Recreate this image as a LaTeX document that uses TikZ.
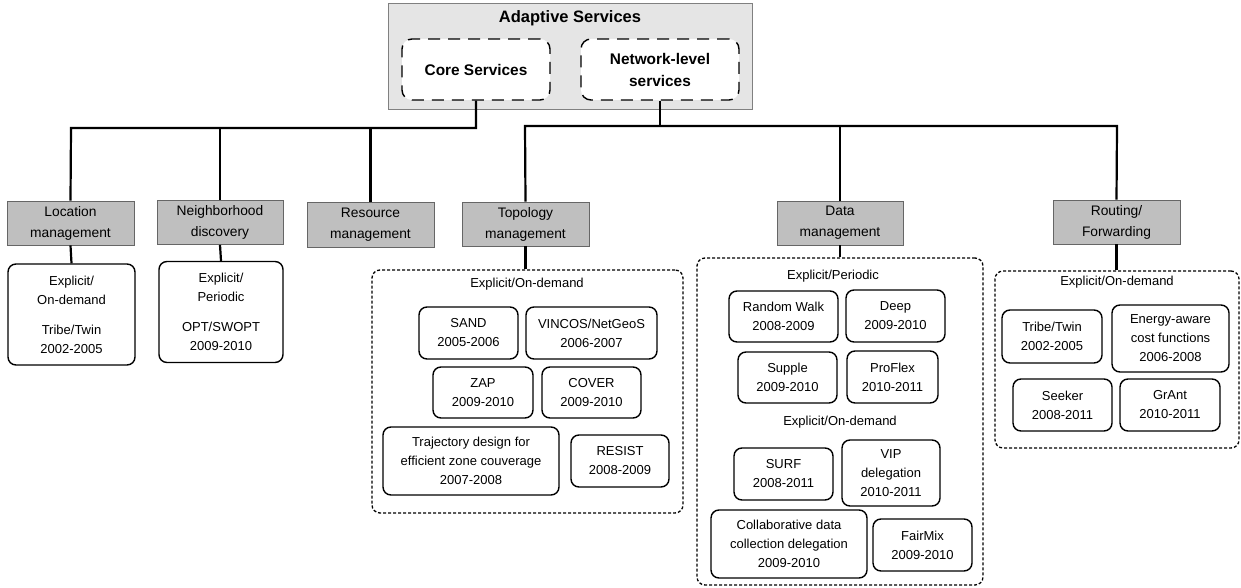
\documentclass[tikz,border=0pt]{standalone}
\usepackage{fontspec}
\setmainfont{Liberation Sans}
\begin{document}
\begin{tikzpicture}[x=1pt,y=-1pt,
  topbox/.style={draw=black!50, fill=black!10, line width=1pt, inner sep=0pt},
  svcbox/.style={draw, fill=white, line width=1.4pt, dash pattern=on 12pt off 8pt, rounded corners=10pt, inner sep=0pt, align=center, font=\fontsize{15.4}{22}\selectfont\bfseries},
  gbox/.style={draw=black!60, fill=black!25, line width=0.9pt, inner sep=0pt, align=center, minimum width=127pt, minimum height=44pt, font=\fontsize{13.8}{21}\selectfont},
  wbox/.style={draw, fill=white, line width=1.4pt, rounded corners=8pt, inner sep=0pt, align=center, font=\fontsize{13}{19}\selectfont},
  cluster/.style={draw, line width=1.3pt, dash pattern=on 3pt off 2pt, rounded corners=8pt, inner sep=0pt},
  lbl/.style={inner sep=0pt, align=center, font=\fontsize{13}{19}\selectfont},
  conn/.style={line width=2.2pt}
]
\useasboundingbox (0,0) rectangle (1241,588);

% top box
\node[topbox, minimum width=364pt, minimum height=106pt] (adapt) at (570,57) {};
\node[inner sep=0pt, font=\fontsize{16.5}{20}\selectfont\bfseries] (adaptt) at (570,18) {Adaptive Services};
\node[svcbox, minimum width=148pt, minimum height=61pt] (core) at (476,69.5) {Core Services};
\node[svcbox, minimum width=158pt, minimum height=61pt] (netw) at (660,69.5) {Network-level\\services};

% second level
\node[gbox] (loc) at (70.5,223) {Location\\management};
\node[gbox, minimum width=126pt] (nbr) at (220,222.5) {Neighborhood\\discovery};
\node[gbox, minimum height=45pt] (res) at (370.5,224.5) {Resource\\management};
\node[gbox] (topo) at (525.5,224) {Topology\\management};
\node[gbox, minimum width=126pt] (data) at (840,223) {Data\\management};
\node[gbox] (rout) at (1116.5,222) {Routing/\\Forwarding};

% bus coordinates
\coordinate (lbus) at (71,128);
\coordinate (rbusL) at (525,126);
\coordinate (rbusR) at (1117,126);

\draw[conn] (core.south) |- (lbus) -- (loc.north);
\draw[conn] (nbr.north) -- (nbr.north |- lbus);
\draw[conn] (res.north) -- (res.north |- lbus);
\draw[conn] (netw.south) -- (netw.south |- rbusL);
\draw[conn] (topo.north) -- (rbusL) -- (rbusR) -- (rout.north);
\draw[conn] (data.north) -- (data.north |- rbusL);

% location / neighborhood
\node[wbox, minimum width=127pt, minimum height=101pt] (locw) at (71.5,314.5) {Explicit/\\On-demand\\[11pt]Tribe/Twin\\2002-2005};
\node[wbox, minimum width=124pt, minimum height=101pt] (nbrw) at (221,312) {Explicit/\\Periodic\\[11pt]OPT/SWOPT\\2009-2010};
\draw[conn] (loc.south) -- (locw.north);
\draw[conn] (nbr.south) -- (nbrw.north);

% topology cluster
\node[cluster, minimum width=311pt, minimum height=243pt] (topoc) at (527.5,391.5) {};
\node[lbl] (topol) at (527,284) {Explicit/On-demand};
\node[wbox, minimum width=99pt, minimum height=52pt] (sand) at (468.5,333) {SAND\\2005-2006};
\node[wbox, minimum width=131pt, minimum height=52pt] (vincos) at (591.5,333) {VINCOS/NetGeoS\\2006-2007};
\node[wbox, minimum width=100pt, minimum height=51pt] (zap) at (483,392.5) {ZAP\\2009-2010};
\node[wbox, minimum width=99pt, minimum height=51pt] (cover) at (591.5,392.5) {COVER\\2009-2010};
\node[wbox, minimum width=176pt, minimum height=68pt] (traj) at (471,461) {Trajectory design for\\efficient zone couverage\\2007-2008};
\node[wbox, minimum width=98pt, minimum height=52pt] (resist) at (620,461) {RESIST\\2008-2009};
\draw[conn] (topo.south) -- (topoc.north -| topo.south);

% data cluster
\node[cluster, minimum width=286pt, minimum height=327pt] (datac) at (840,421.5) {};
\node[lbl] (datal1) at (833,276) {Explicit/Periodic};
\node[wbox, minimum width=109pt, minimum height=51pt] (rw) at (783.5,316.5) {Random Walk\\2008-2009};
\node[wbox, minimum width=99pt, minimum height=52pt] (deep) at (895.5,316) {Deep\\2009-2010};
\node[wbox, minimum width=99pt, minimum height=51pt] (supple) at (787.5,377.5) {Supple\\2009-2010};
\node[wbox, minimum width=91pt, minimum height=52pt] (proflex) at (892.5,377) {ProFlex\\2010-2011};
\node[lbl] (datal2) at (840,422) {Explicit/On-demand};
\node[wbox, minimum width=99pt, minimum height=52pt] (surf) at (783.5,474) {SURF\\2008-2011};
\node[wbox, minimum width=98pt, minimum height=66pt] (vip) at (891,473) {VIP\\delegation\\2010-2011};
\node[wbox, minimum width=156pt, minimum height=68pt] (collab) at (789,544) {Collaborative data\\collection delegation\\2009-2010};
\node[wbox, minimum width=99pt, minimum height=52pt] (fairmix) at (922.5,545) {FairMix\\2009-2010};
\draw[conn] (data.south) -- (datac.north -| data.south);

% routing cluster
\node[cluster, minimum width=244pt, minimum height=177pt] (routc) at (1117,359.5) {};
\node[lbl] (routl) at (1117,282) {Explicit/On-demand};
\node[wbox, minimum width=100pt, minimum height=53pt] (tribe) at (1052,336.5) {Tribe/Twin\\2002-2005};
\node[wbox, minimum width=117pt, minimum height=67pt] (energy) at (1170.5,338.5) {Energy-aware\\cost functions\\2006-2008};
\node[wbox, minimum width=99pt, minimum height=52pt] (seeker) at (1062.5,405) {Seeker\\2008-2011};
\node[wbox, minimum width=100pt, minimum height=52pt] (grant) at (1170,405) {GrAnt\\2010-2011};
\draw[conn] (rout.south) -- (routc.north -| rout.south);
\end{tikzpicture}
\end{document}
